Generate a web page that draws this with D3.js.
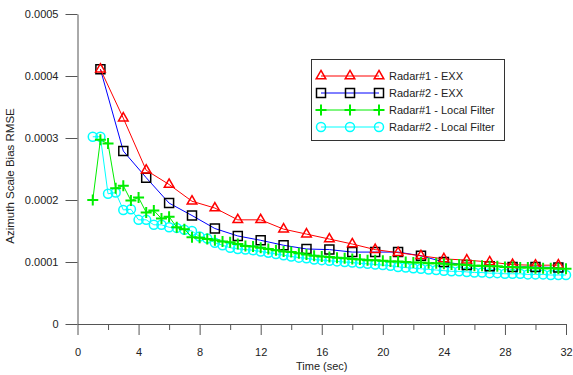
<!DOCTYPE html>
<html>
<head>
<meta charset="utf-8">
<script src="https://cdn.jsdelivr.net/npm/d3@7"></script>
<style>
  body { margin: 0; background: #fff; }
  svg { font-family: "Liberation Sans", Arial, sans-serif; }
</style>
</head>
<body>
<div id="chart"></div>
<script>
// sample times (sec)
const exxTime = [1.5, 3, 4.5, 6, 7.5, 9, 10.5, 12, 13.5, 15, 16.5, 18, 19.5, 21, 22.5, 24, 25.5, 27, 28.5, 30, 31.5];
const filterTime = [1, 1.5, 2, 2.5, 3, 3.5, 4, 4.5, 5, 5.5, 6, 6.5, 7, 7.5, 8, 8.5, 9, 9.5, 10, 10.5,
  11, 11.5, 12, 12.5, 13, 13.5, 14, 14.5, 15, 15.5, 16, 16.5, 17, 17.5, 18, 18.5, 19, 19.5, 20, 20.5,
  21, 21.5, 22, 22.5, 23, 23.5, 24, 24.5, 25, 25.5, 26, 26.5, 27, 27.5, 28, 28.5, 29, 29.5, 30, 30.5,
  31, 31.5, 32];

// RMSE values
const radar1Exx = [0.000411, 0.000332, 0.000248, 0.000225, 0.000198, 0.000187, 0.000168, 0.000168, 0.000153, 0.000145,
  0.000137, 0.000129, 0.000120, 0.000115, 0.000110, 0.000105, 0.000103, 0.000100, 0.0000957, 0.0000947, 0.000095];
const radar2Exx = [0.000411, 0.000279, 0.000236, 0.000195, 0.000175, 0.000154, 0.000142, 0.000135, 0.000127, 0.000121,
  0.000120, 0.000116, 0.000116, 0.000116, 0.000110, 0.000100, 0.000095, 0.000093, 0.000092, 0.000092, 0.000091];
const radar1Local = [0.000200, 0.000297, 0.000291, 0.000219, 0.000223, 0.000199, 0.000204, 0.000180, 0.000183, 0.000170,
  0.000173, 0.000156, 0.000153, 0.000140, 0.000139, 0.000137, 0.000135, 0.000133, 0.000132, 0.000129,
  0.000126, 0.000125, 0.000123, 0.000121, 0.000119, 0.000117, 0.000116, 0.000114, 0.000112, 0.000110,
  0.000109, 0.000108, 0.000107, 0.000106, 0.000105, 0.000104, 0.000103, 0.000103, 0.000102, 0.000101,
  0.000101, 0.000100, 0.000099, 0.000099, 0.000098, 0.000098, 0.000097, 0.000096, 0.000096, 0.000095,
  0.000094, 0.000094, 0.000093, 0.000093, 0.000092, 0.000092, 0.000091, 0.000091, 0.000090, 0.000090,
  0.000090, 0.000089, 0.000089];
const radar2Local = [0.000302, 0.000302, 0.000210, 0.000212, 0.000184, 0.000185, 0.000168, 0.000168, 0.000160, 0.000160,
  0.000156, 0.000155, 0.000152, 0.000150, 0.000141, 0.000138, 0.000131, 0.000127, 0.000123, 0.000121,
  0.000120, 0.000119, 0.000117, 0.000115, 0.000113, 0.000111, 0.000109, 0.000107, 0.000106, 0.000104,
  0.000103, 0.000102, 0.000101, 0.000100, 0.000099, 0.000098, 0.000097, 0.000096, 0.000095, 0.000094,
  0.000092, 0.000091, 0.000090, 0.000089, 0.000088, 0.000087, 0.000086, 0.000085, 0.000085, 0.000084,
  0.000083, 0.000083, 0.000082, 0.000082, 0.000081, 0.000081, 0.000081, 0.000080, 0.000080, 0.000080,
  0.000079, 0.000079, 0.000079];

const xMajorTicks = [0, 4, 8, 12, 16, 20, 24, 28, 32];
const xMinorTicks = [2, 6, 10, 14, 18, 22, 26, 30];
const yTicks = [0, 0.0001, 0.0002, 0.0003, 0.0004, 0.0005];

const W = 573, H = 375;
const svg = d3.select('#chart').append('svg').attr('width', W).attr('height', H);

const x = d3.scaleLinear().domain([0, 32]).range([77.5, 566]);
const y = d3.scaleLinear().domain([0, 0.0005]).range([324, 14]);

// axes
svg.append('g')
  .attr('transform', `translate(0,${y(0)})`)
  .call(d3.axisBottom(x).tickValues(xMajorTicks).tickSize(11).tickSizeOuter(0).tickPadding(13).tickFormat(d3.format('d')));
const xAxisMinor = svg.append('g')
  .attr('transform', `translate(0,${y(0)})`)
  .call(d3.axisBottom(x).tickValues(xMinorTicks).tickSize(6).tickSizeOuter(0).tickFormat(''));
xAxisMinor.select('.domain').remove();

svg.append('g')
  .attr('transform', `translate(${x(0)},0)`)
  .call(d3.axisLeft(y).tickValues(yTicks).tickSize(12).tickSizeOuter(0).tickPadding(7)
    .tickFormat(d => d === 0 ? '0' : d.toFixed(4)));

svg.selectAll('.tick text').attr('font-size', 11).attr('fill', '#222').attr('font-family', '"Liberation Sans", Arial, sans-serif');
svg.selectAll('.domain, .tick line').attr('stroke', '#555');

svg.append('text')
  .attr('x', x(16)).attr('y', 370)
  .attr('text-anchor', 'middle').attr('font-size', 11).attr('fill', '#222')
  .text('Time (sec)');

svg.append('text')
  .attr('transform', `translate(14,176) rotate(-90)`)
  .attr('text-anchor', 'middle').attr('font-size', 11.5).attr('fill', '#222')
  .text('Azimuth Scale Bias RMSE');

// series
const series = [
  { name: 'Radar#2 - Local Filter', t: filterTime, v: radar2Local, line: '#00ffff', mark: '#00ffff', shape: 'circle' },
  { name: 'Radar#2 - EXX', t: exxTime, v: radar2Exx, line: '#0000ff', mark: '#000000', shape: 'square' },
  { name: 'Radar#1 - EXX', t: exxTime, v: radar1Exx, line: '#ff0000', mark: '#ff0000', shape: 'triangle' },
  { name: 'Radar#1 - Local Filter', t: filterTime, v: radar1Local, line: '#00ee00', mark: '#00ee00', shape: 'plus' }
];

function markerPath(shape) {
  if (shape === 'triangle') return d3.symbol(d3.symbolTriangle, 40)();
  if (shape === 'square') return d3.symbol(d3.symbolSquare, 81)();
  if (shape === 'circle') return d3.symbol(d3.symbolCircle, Math.PI * 4.5 * 4.5)();
  return 'M-5.5,0H5.5M0,-5.5V5.5';
}

const line = d3.line().x(d => x(d[0])).y(d => y(d[1]));

series.forEach(s => {
  const pts = s.t.map((t, i) => [t, s.v[i]]);
  const g = svg.append('g');
  g.append('path').datum(pts)
    .attr('d', line).attr('fill', 'none').attr('stroke', s.line).attr('stroke-width', 1);
  g.selectAll('path.mk').data(pts).enter().append('path')
    .attr('class', 'mk')
    .attr('d', markerPath(s.shape))
    .attr('transform', d => `translate(${x(d[0])},${y(d[1])})`)
    .attr('fill', 'none')
    .attr('stroke', s.mark)
    .attr('stroke-width', s.shape === 'plus' ? 2 : 1.5);
});

// legend
const legendOrder = ['Radar#1 - EXX', 'Radar#2 - EXX', 'Radar#1 - Local Filter', 'Radar#2 - Local Filter'];
const legend = svg.append('g');
legend.append('rect')
  .attr('x', 311.5).attr('y', 59.5).attr('width', 193).attr('height', 81)
  .attr('fill', '#fff').attr('stroke', '#333').attr('stroke-width', 1);

legendOrder.forEach((name, i) => {
  const s = series.find(d => d.name === name);
  const ly = 76 + i * 17;
  legend.append('line')
    .attr('x1', 321).attr('x2', 379).attr('y1', ly).attr('y2', ly)
    .attr('stroke', s.line).attr('stroke-width', 1);
  [321, 350, 379].forEach(mx => {
    legend.append('path')
      .attr('d', markerPath(s.shape))
      .attr('transform', `translate(${mx},${ly})`)
      .attr('fill', 'none').attr('stroke', s.mark)
      .attr('stroke-width', s.shape === 'plus' ? 2 : 1.5);
  });
  legend.append('text')
    .attr('x', 389).attr('y', ly + 4)
    .attr('font-size', 11).attr('fill', '#222')
    .text(name);
});
</script>
</body>
</html>
